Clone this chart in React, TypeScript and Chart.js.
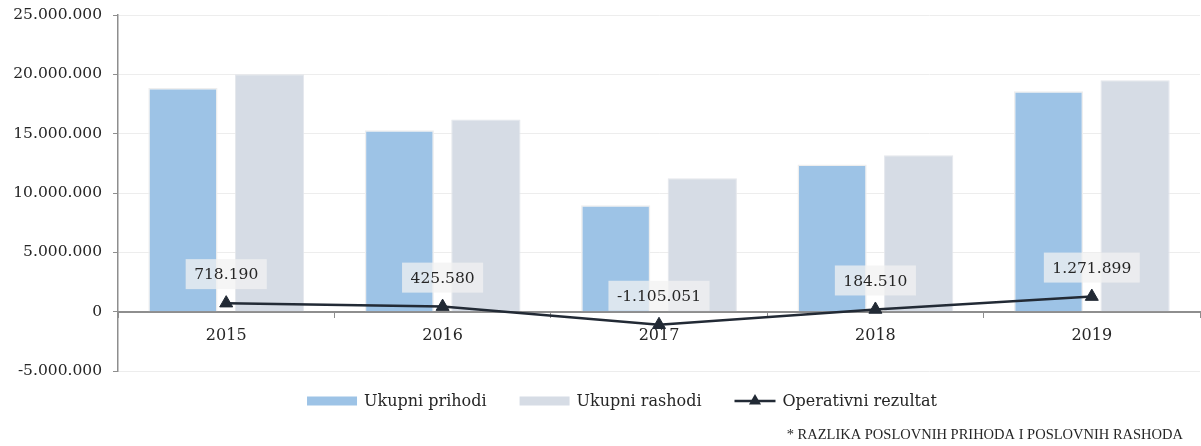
import React, { useEffect, useRef } from 'react';
import { Chart, registerables } from 'chart.js';

Chart.register(...registerables);

const categories = ['2015', '2016', '2017', '2018', '2019'];
const ukupniPrihodi = [18850000, 15290000, 8960000, 12400000, 18570000];
const ukupniRashodi = [20000000, 16200000, 11240000, 13180000, 19500000];
const operativniRezultat = [718190, 425580, -1105051, 184510, 1271899];
const seriesNames = ['Ukupni prihodi', 'Ukupni rashodi', 'Operativni rezultat'];
const footnote = '* RAZLIKA POSLOVNIH PRIHODA I POSLOVNIH RASHODA';
const yMin = -5000000;
const yMax = 25000000;
const yStep = 5000000;

const colPrihodi = '#9DC3E6';
const colRashodi = '#D6DCE5';
const colLine = '#222A35';
const textCol = '#262626';
const axisCol = '#8E8E8E';
const numFont = '"DejaVu Serif", serif';
const txtFont = '"DejaVu Serif", serif';

function fmt(v: number): string {
  const neg = v < 0;
  const s = Math.round(Math.abs(v)).toString();
  const out = s.replace(/\B(?=(\d{3})+(?!\d))/g, '.');
  return (neg ? '-' : '') + out;
}

function drawTriangle(ctx: CanvasRenderingContext2D, x: number, y: number, r: number) {
  ctx.beginPath();
  ctx.moveTo(x, y - r);
  ctx.lineTo(x + r * Math.sin(Math.PI * 2 / 3), y + r / 2);
  ctx.lineTo(x - r * Math.sin(Math.PI * 2 / 3), y + r / 2);
  ctx.closePath();
  ctx.fill();
}

const overlayPlugin = {
  id: 'overlay',
  afterDatasetsDraw(chart: any) {
    const ctx: CanvasRenderingContext2D = chart.ctx;
    const meta = chart.getDatasetMeta(2);
    ctx.save();
    ctx.font = '15.5px ' + numFont;
    ctx.textAlign = 'center';
    ctx.textBaseline = 'middle';
    meta.data.forEach((pt: any, i: number) => {
      const txt = fmt(operativniRezultat[i]);
      const w = ctx.measureText(txt).width + 17;
      const h = 30;
      const bottom = pt.y - 14;
      ctx.fillStyle = 'rgba(242,242,242,0.75)';
      ctx.fillRect(pt.x - w / 2, bottom - h, w, h);
      ctx.fillStyle = textCol;
      ctx.fillText(txt, pt.x, bottom - h / 2 + 1);
    });
    ctx.restore();
  },
  afterDraw(chart: any) {
    const ctx: CanvasRenderingContext2D = chart.ctx;
    ctx.save();
    // legend
    ctx.font = '16px ' + txtFont;
    ctx.textBaseline = 'middle';
    ctx.textAlign = 'left';
    const swW = [50, 50, 41];
    const swGap = 7;
    const itemGap = 33;
    const widths = seriesNames.map((n, i) => swW[i] + swGap + ctx.measureText(n).width);
    const total = widths.reduce((a, b) => a + b, 0) + itemGap * (seriesNames.length - 1);
    let x = 622 - total / 2;
    const cy = 401;
    seriesNames.forEach((n, i) => {
      if (i < 2) {
        ctx.fillStyle = i === 0 ? colPrihodi : colRashodi;
        ctx.fillRect(x, cy - 4.5, swW[i], 9);
      } else {
        ctx.strokeStyle = colLine;
        ctx.lineWidth = 2.5;
        ctx.beginPath();
        ctx.moveTo(x, cy);
        ctx.lineTo(x + swW[i], cy);
        ctx.stroke();
        ctx.fillStyle = colLine;
        drawTriangle(ctx, x + swW[i] / 2, cy, 7);
      }
      ctx.fillStyle = textCol;
      ctx.fillText(n, x + swW[i] + swGap, cy + 1);
      x += widths[i] + itemGap;
    });
    // footnote
    ctx.font = '14.5px "Liberation Serif", serif';
    ctx.textAlign = 'right';
    ctx.fillStyle = textCol;
    ctx.fillText(footnote, 1183, 435);
    ctx.restore();
  },
};

export default function App() {
  const ref = useRef<HTMLCanvasElement | null>(null);

  useEffect(() => {
    if (!ref.current) return;
    const chart = new Chart(ref.current, {
      type: 'bar',
      data: {
        labels: categories,
        datasets: [
          {
            type: 'bar',
            label: seriesNames[0],
            data: ukupniPrihodi,
            backgroundColor: colPrihodi,
            borderColor: '#EEEEEE',
            borderWidth: 1.5,
            barPercentage: 0.8,
            categoryPercentage: 0.8,
            order: 1,
          },
          {
            type: 'bar',
            label: seriesNames[1],
            data: ukupniRashodi,
            backgroundColor: colRashodi,
            borderColor: '#E4E7EC',
            borderWidth: 1,
            barPercentage: 0.8,
            categoryPercentage: 0.8,
            order: 1,
          },
          {
            type: 'line',
            label: seriesNames[2],
            data: operativniRezultat,
            borderColor: colLine,
            borderWidth: 2.5,
            pointStyle: 'triangle',
            pointRadius: 7.5,
            pointBackgroundColor: colLine,
            pointBorderColor: colLine,
            pointBorderWidth: 1,
            tension: 0,
            order: 0,
          } as any,
        ],
      },
      options: {
        responsive: false,
        animation: false,
        layout: { autoPadding: false, padding: { top: 15, right: 1, bottom: 75, left: 0 } },
        plugins: {
          legend: { display: false },
          tooltip: { enabled: false },
        },
        scales: {
          x: {
            position: { y: 0 } as any,
            offset: true,
            grid: {
              display: true,
              drawOnChartArea: false,
              drawTicks: true,
              tickLength: 5,
              color: axisCol,
              offset: true,
            },
            border: { display: true, color: axisCol, width: 2 },
            ticks: {
              color: textCol,
              font: { family: numFont, size: 16 },
              padding: 10,
              maxRotation: 0,
            },
            afterFit: (scale: any) => {
              scale.paddingLeft = 0;
              scale.paddingRight = 0;
              scale.paddingTop = 0;
              scale.paddingBottom = 0;
            },
          },
          y: {
            min: yMin,
            max: yMax,
            ticks: {
              stepSize: yStep,
              color: textCol,
              font: { family: numFont, size: 15.5 },
              padding: 11,
              callback: (v: any) => fmt(Number(v)),
            },
            grid: {
              color: '#EDEDED',
              tickColor: axisCol,
              tickLength: 5,
              lineWidth: 1,
            },
            border: { display: true, color: axisCol, width: 1.5 },
            afterFit: (scale: any) => {
              scale.width = 118;
              scale.paddingTop = 0;
              scale.paddingBottom = 0;
              scale.paddingLeft = 0;
              scale.paddingRight = 0;
            },
          },
        },
      },
      plugins: [overlayPlugin],
    });
    return () => chart.destroy();
  }, []);

  return (
    <div style={{ position: 'fixed', left: 0, top: 0, width: 1201, height: 446, background: '#fff' }}>
      <canvas ref={ref} width={1201} height={446} style={{ width: 1201, height: 446, display: 'block' }} />
    </div>
  );
}
